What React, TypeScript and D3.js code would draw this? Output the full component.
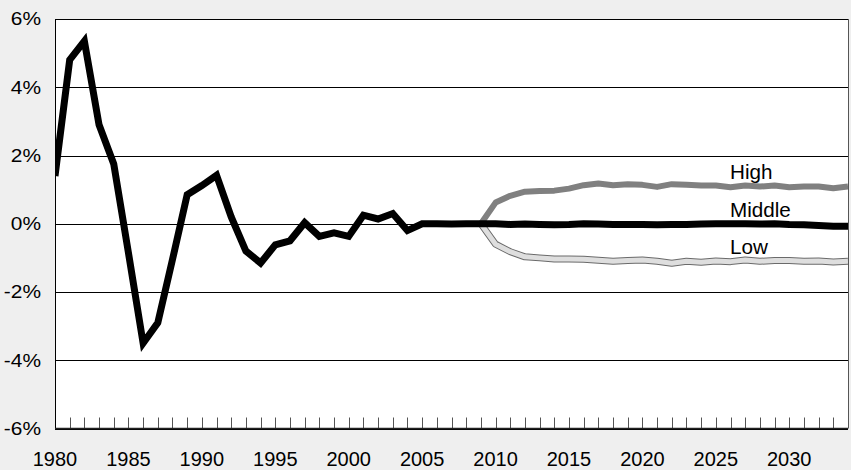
import React from "react";
import * as d3 from "d3";

const years: number[] = d3.range(1980, 2035);
const middle: number[] = [
  1.4, 4.8, 5.35, 2.9, 1.75, -0.85, -3.5, -2.9, -1.05, 0.85,
  1.12, 1.42, 0.2, -0.8, -1.15, -0.62, -0.5, 0.03, -0.37, -0.27,
  -0.37, 0.25, 0.14, 0.3, -0.2, 0.0, 0.0, -0.01, 0.0, 0.0,
  0.0, -0.02, -0.01, -0.02, -0.03, -0.02, 0.0, -0.01, -0.02, -0.02,
  -0.02, -0.03, -0.02, -0.02, -0.01, 0.0, 0.0, 0.0, -0.01, 0.0,
  -0.02, -0.03, -0.05, -0.07, -0.07,
];
const forecastYears: number[] = d3.range(2009, 2035);
const high: number[] = [
  0, 0.62, 0.82, 0.94, 0.96, 0.97, 1.03, 1.13, 1.18, 1.13,
  1.16, 1.14, 1.08, 1.16, 1.14, 1.12, 1.12, 1.07, 1.12, 1.09,
  1.12, 1.07, 1.09, 1.09, 1.04, 1.09,
];
const low: number[] = [
  0, -0.6, -0.82, -0.97, -1.0, -1.03, -1.03, -1.04, -1.07, -1.1,
  -1.08, -1.06, -1.1, -1.16, -1.1, -1.13, -1.09, -1.11, -1.06, -1.1,
  -1.08, -1.08, -1.1, -1.09, -1.12, -1.1,
];
const yTicks: number[] = [-6, -4, -2, 0, 2, 4, 6];
const xLabels: number[] = [1980, 1985, 1990, 1995, 2000, 2005, 2010, 2015, 2020, 2025, 2030];
const seriesLabels: { name: string; value: number }[] = [
  { name: "High", value: 1.1 },
  { name: "Middle", value: 0 },
  { name: "Low", value: -1.1 },
];

export default function App() {
  const W = 851, H = 470;
  const left = 55, right = 848, top = 19, bottom = 428.5;
  const x = d3.scaleLinear().domain([1980, 2034]).range([left, right]);
  const y = d3.scaleLinear().domain([-6, 6]).range([bottom, top]);
  const line = d3
    .line<[number, number]>()
    .x((d) => x(d[0]))
    .y((d) => y(d[1]))
    .curve(d3.curveLinear);
  const midPath = line(years.map((yr, i) => [yr, middle[i]] as [number, number]))!;
  const highPath = line(forecastYears.map((yr, i) => [yr, high[i]] as [number, number]))!;
  const lowPath = line(forecastYears.map((yr, i) => [yr, low[i]] as [number, number]))!;
  const font = "Liberation Sans, Arial, sans-serif";

  return (
    <svg
      width={W}
      height={H}
      style={{ position: "absolute", left: 0, top: 0, background: "#efefef" }}
    >
      <defs>
        <clipPath id="clip">
          <rect x={left} y={top - 10} width={right - left} height={bottom - top + 20} />
        </clipPath>
      </defs>
      <rect x={left} y={top} width={right - left} height={bottom - top} fill="#ffffff" />
      {yTicks.map((t) => (
        <line key={t} x1={left} x2={right} y1={Math.round(y(t)) + 0.5} y2={Math.round(y(t)) + 0.5} stroke="#000" strokeWidth={1} />
      ))}
      {years.slice(1, -1).map((yr) => (
        <line key={yr} x1={Math.round(x(yr)) + 0.5} x2={Math.round(x(yr)) + 0.5} y1={bottom - 11} y2={bottom} stroke="#555" strokeWidth={1} />
      ))}
      <line x1={left + 0.5} x2={left + 0.5} y1={top} y2={bottom} stroke="#000" strokeWidth={1} />
      <line x1={right + 0.5} x2={right + 0.5} y1={top} y2={bottom} stroke="#555" strokeWidth={1} />
      <line x1={left} x2={right} y1={Math.round(bottom) - 0.5} y2={Math.round(bottom) - 0.5} stroke="#222" strokeWidth={1.5} />
      <g clipPath="url(#clip)">
        <path d={lowPath} fill="none" stroke="#6a6a6a" strokeWidth={7} strokeLinejoin="round" />
        <path d={lowPath} fill="none" stroke="#dedede" strokeWidth={5} strokeLinejoin="round" />
        <path d={highPath} fill="none" stroke="#808080" strokeWidth={6} strokeLinejoin="round" />
        <path d={midPath} fill="none" stroke="#000" strokeWidth={7} strokeLinejoin="miter" />
      </g>
      {yTicks.map((t) => (
        <g key={t} transform={`translate(41,${y(t)}) scale(1.13,1)`}>
          <text x={0} y={0} dy="0.35em" textAnchor="end" fontFamily={font} fontSize={18.5} fill="#000">
            {t}%
          </text>
        </g>
      ))}
      {xLabels.map((yr) => (
        <text key={yr} x={x(yr)} y={466} textAnchor="middle" fontFamily={font} fontSize={20} fill="#000">
          {yr}
        </text>
      ))}
      {seriesLabels.map((s, i) => (
        <g key={s.name} transform={`translate(730,${179 + i * 37.5}) scale(1.06,1)`}>
          <text x={0} y={0} fontFamily={font} fontSize={19.5} fill="#000">
            {s.name}
          </text>
        </g>
      ))}
    </svg>
  );
}
